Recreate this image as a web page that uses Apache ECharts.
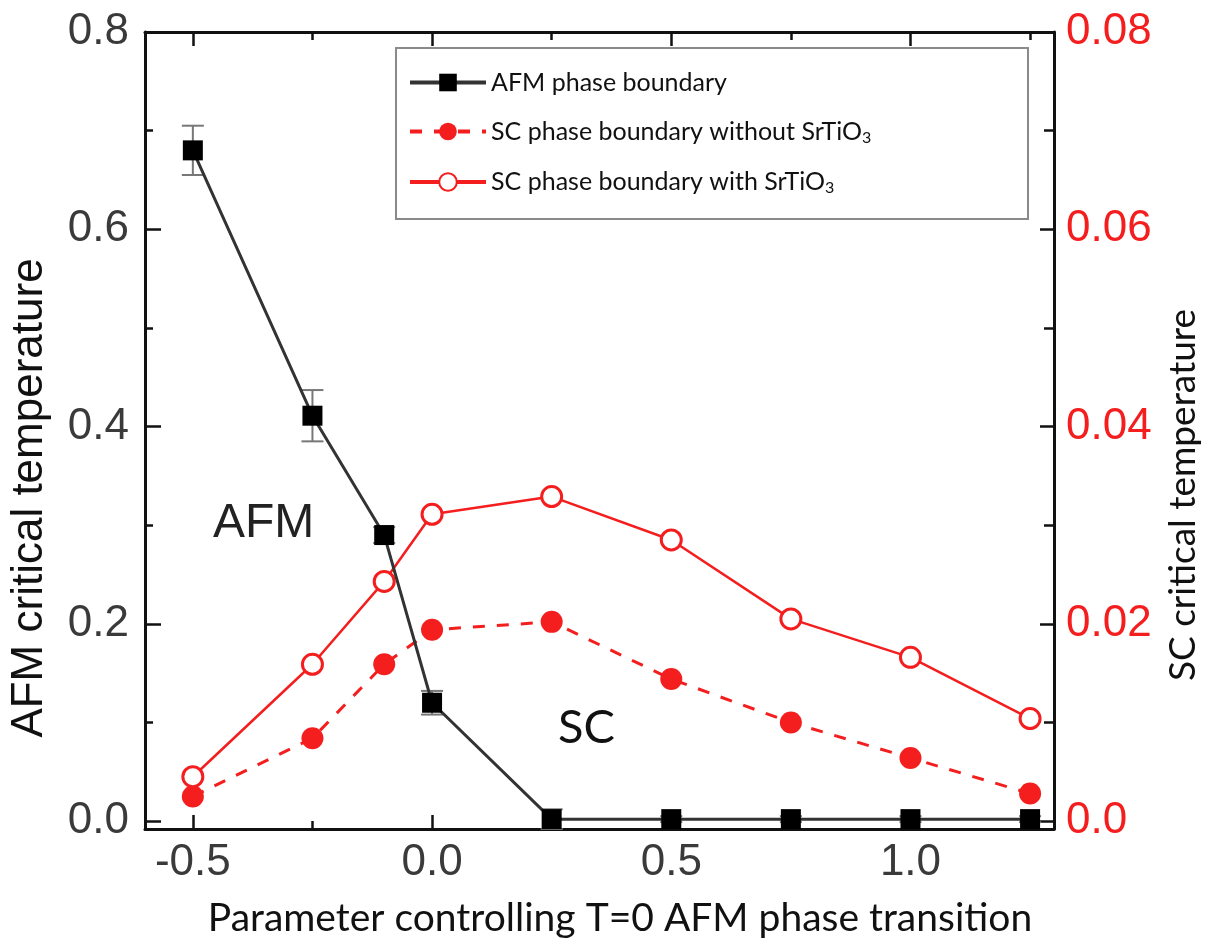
<!DOCTYPE html>
<html>
<head>
<meta charset="utf-8">
<script src="https://cdn.jsdelivr.net/npm/echarts@6/dist/echarts.min.js"></script>
<style>
html, body { margin: 0; padding: 0; background: #fff; }
#chart { width: 1206px; height: 949px; }
</style>
</head>
<body>
<div id="chart"></div>
<script>
// data
var xVals = [-0.5, -0.25, -0.1, 0, 0.25, 0.5, 0.75, 1.0, 1.25];
var afmTc = [0.68, 0.411, 0.29, 0.12, 0.002, 0.002, 0.002, 0.002, 0.002];
var afmErr = [0.025, 0.026, 0.008, 0.012, 0.01, 0.003, 0.003, 0.003, 0.003];
var scWithout = [0.0025, 0.0084, 0.0159, 0.0194, 0.0202, 0.0144, 0.0100, 0.0064, 0.0028];
var scWith = [0.0045, 0.0159, 0.0243, 0.0311, 0.0329, 0.0285, 0.0205, 0.0166, 0.0104];

// ticks
var xMajor = [-0.5, 0, 0.5, 1.0];
var xMinor = [-0.25, 0.25, 0.75, 1.25];
var yLeftMajor = [0, 0.2, 0.4, 0.6, 0.8];
var yLeftMinor = [0.1, 0.3, 0.5, 0.7];
var yRightMajor = [0, 0.02, 0.04, 0.06, 0.08];
var yRightMinor = [0.01, 0.03, 0.05, 0.07];

var seriesNames = ['AFM phase boundary', 'SC phase boundary without SrTiO3', 'SC phase boundary with SrTiO3'];

var RED = '#f41e1e';
var X_MIN = -0.6, X_MAX = 1.3;
var YL_MIN = -0.008, YL_MAX = 0.8;
var YR_MIN = -0.0008, YR_MAX = 0.08;

function pairs(ys) {
	return xVals.map(function(x, i) { return [x, ys[i]]; });
}

var chart = echarts.init(document.getElementById('chart'));

var frameLine = { show: true, onZero: false, lineStyle: { color: '#111', width: 3 } };
var noLine = { show: false, onZero: false };

function xAx(pos, ticks, len, labels) {
	return {
		type: 'value', position: pos, min: X_MIN, max: X_MAX,
		axisLine: len > 10 ? frameLine : noLine,
		axisTick: { show: true, inside: true, length: len, customValues: ticks, lineStyle: { color: '#111', width: 2.5 } },
		axisLabel: labels ? {
			show: true, customValues: ticks, margin: 12, fontSize: 44, color: '#3a3a3a',
			fontFamily: 'Liberation Sans, Arial',
			formatter: function(v) { return v.toFixed(1); }
		} : { show: false },
		splitLine: { show: false }
	};
}

function yAx(pos, min, max, ticks, len, labelCfg) {
	return {
		type: 'value', position: pos, min: min, max: max,
		axisLine: len > 10 ? frameLine : noLine,
		axisTick: { show: true, inside: true, length: len, customValues: ticks, lineStyle: { color: '#111', width: 2.5 } },
		axisLabel: labelCfg ? labelCfg : { show: false },
		splitLine: { show: false }
	};
}

var option = {
	animation: false,
	backgroundColor: '#fff',
	grid: { left: 145, right: 152, top: 32, bottom: 120 },
	xAxis: [
		xAx('bottom', xMajor, 14, true),
		xAx('top', xMajor, 14),
		xAx('top', xMinor, 8),     // flips to bottom (bottom already used)
		xAx('bottom', xMinor, 8)   // flips to top
	],
	yAxis: [
		yAx('left', YL_MIN, YL_MAX, yLeftMajor, 16, {
			show: true, customValues: yLeftMajor, margin: 16, fontSize: 44, color: '#3a3a3a',
			fontFamily: 'Liberation Sans, Arial',
			formatter: function(v) { return v.toFixed(1); }
		}),
		yAx('right', YR_MIN, YR_MAX, yRightMajor, 14, {
			show: true, customValues: yRightMajor, margin: 12, fontSize: 44, color: RED,
			fontFamily: 'Liberation Sans, Arial',
			formatter: function(v) { return v === 0 ? '0.0' : v.toFixed(2); }
		}),
		yAx('right', YL_MIN, YL_MAX, yLeftMinor, 10),   // flips to left
		yAx('left', YR_MIN, YR_MAX, yRightMinor, 8)     // flips to right
	],
	legend: {
		orient: 'vertical',
		left: 403, top: 65,
		itemWidth: 76, itemHeight: 22, itemGap: 24,
		data: seriesNames,
		lineStyle: { width: 4 },
		textStyle: {
			fontFamily: 'Lato', fontSize: 25, color: '#111',
			rich: {
				t: { fontFamily: 'Lato', fontSize: 25, color: '#111' },
				s: { fontFamily: 'Lato', fontSize: 16, color: '#111', padding: [12, 0, 0, 0] }
			}
		},
		formatter: function(name) {
			if (name.slice(-6) === 'SrTiO3') return '{t|' + name.slice(0, -1) + '}{s|3}';
			return '{t|' + name + '}';
		}
	},
	graphic: [
		{ type: 'rect', left: 395, top: 47, z: -1, shape: { width: 632, height: 171 },
		  style: { fill: '#fff', stroke: '#8a8a8a', lineWidth: 2 } },
		{ type: 'text', left: 213, top: 500, style: { text: 'AFM', font: '48px "Liberation Sans", Arial', fill: '#222' } },
		{ type: 'text', left: 558, top: 704, style: { text: 'SC', font: '47px Lato', fill: '#111' } },
		{ type: 'text', x: 30, y: 498, rotation: Math.PI / 2,
		  style: { text: 'AFM critical temperature', font: '44px "Liberation Sans", Arial', fill: '#111', align: 'center', verticalAlign: 'middle' } },
		{ type: 'text', x: 1183, y: 495, rotation: Math.PI / 2,
		  style: { text: 'SC critical temperature', font: '37px Lato', fill: '#111', align: 'center', verticalAlign: 'middle' } },
		{ type: 'text', x: 620, y: 918,
		  style: { text: 'Parameter controlling T=0 AFM phase transition', font: '39px Lato', fill: '#111', align: 'center', verticalAlign: 'middle' } }
	],
	series: [
		{
			type: 'custom', name: 'errorbars', xAxisIndex: 0, yAxisIndex: 0, z: 1, silent: true,
			data: xVals.map(function(x, i) { return [x, afmTc[i] - afmErr[i], afmTc[i] + afmErr[i]]; }),
			renderItem: function(params, api) {
				var top = api.coord([api.value(0), api.value(2)]);
				var bot = api.coord([api.value(0), api.value(1)]);
				var st = { stroke: '#777', lineWidth: 2 };
				return { type: 'group', children: [
					{ type: 'line', shape: { x1: top[0], y1: top[1], x2: bot[0], y2: bot[1] }, style: st },
					{ type: 'line', shape: { x1: top[0] - 11, y1: top[1], x2: top[0] + 11, y2: top[1] }, style: st },
					{ type: 'line', shape: { x1: bot[0] - 11, y1: bot[1], x2: bot[0] + 11, y2: bot[1] }, style: st }
				] };
			}
		},
		{
			name: seriesNames[1], type: 'line', xAxisIndex: 0, yAxisIndex: 1, z: 3,
			data: pairs(scWithout),
			symbol: 'circle', symbolSize: 22,
			lineStyle: { color: RED, width: 3, type: [12, 12] },
			itemStyle: { color: RED }
		},
		{
			name: seriesNames[2], type: 'line', xAxisIndex: 0, yAxisIndex: 1, z: 3,
			data: pairs(scWith),
			symbol: 'circle', symbolSize: 20,
			lineStyle: { color: RED, width: 2.5 },
			itemStyle: { color: '#fff', borderColor: RED, borderWidth: 3 }
		},
		{
			name: seriesNames[0], type: 'line', xAxisIndex: 0, yAxisIndex: 0, z: 4,
			data: pairs(afmTc),
			symbol: 'rect', symbolSize: 20,
			lineStyle: { color: '#333', width: 3 },
			itemStyle: { color: '#000' }
		}
	]
};

chart.setOption(option);
window.addEventListener('resize', chart.resize);
</script>
</body>
</html>
